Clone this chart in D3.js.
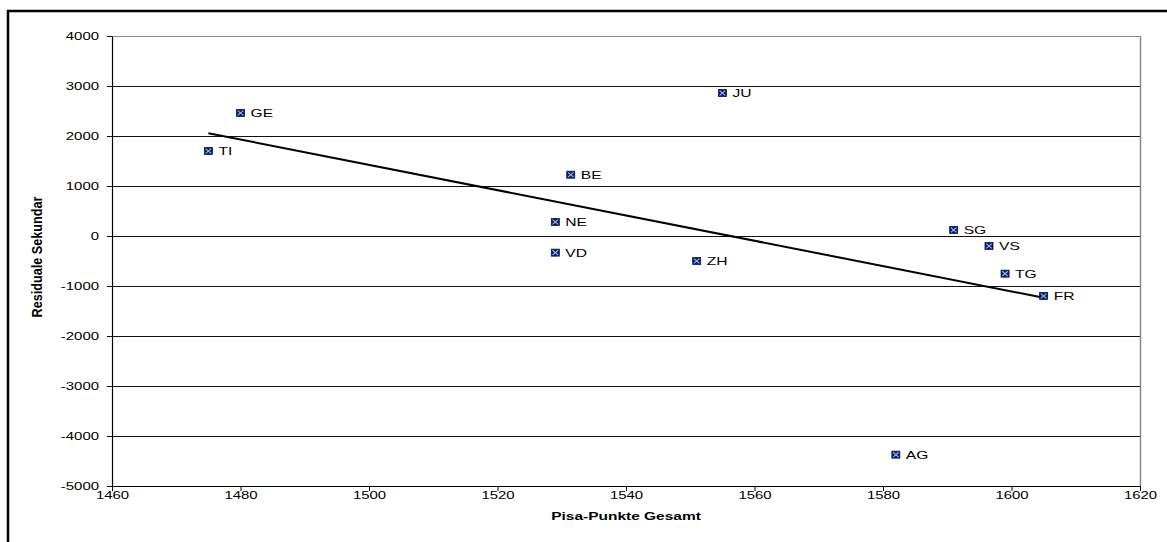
<!DOCTYPE html>
<html>
<head>
<meta charset="utf-8">
<script src="https://cdn.jsdelivr.net/npm/d3@7"></script>
<style>
  html, body { margin: 0; padding: 0; background: #fff; }
  svg { display: block; font-family: "Liberation Sans", Arial, sans-serif; }
</style>
</head>
<body>
<svg id="chart" width="1167" height="542"></svg>
<script>
// ---- data ----
const cantons = ["TI", "GE", "JU", "BE", "NE", "VD", "ZH", "SG", "VS", "TG", "FR", "AG"];
const pisaPoints = [1475, 1480, 1555, 1531.4, 1529, 1529, 1551, 1591, 1596.5, 1599, 1605, 1582];
const residuals = [1700, 2460, 2860, 1226, 280, -333, -500, 120, -200, -753, -1200, -4373];
const xTickValues = [1460, 1480, 1500, 1520, 1540, 1560, 1580, 1600, 1620];
const yTickValues = [-5000, -4000, -3000, -2000, -1000, 0, 1000, 2000, 3000, 4000];
const xTitle = "Pisa-Punkte Gesamt";
const yTitle = "Residuale Sekundar";

const SX = 1.37; // horizontal stretch of text in the reference

const svg = d3.select("#chart");

// outer chart border
svg.append("rect")
  .attr("x", 8).attr("y", 11)
  .attr("width", 1200).attr("height", 600)
  .attr("fill", "none").attr("stroke", "#000").attr("stroke-width", 2.5);

const x = d3.scaleLinear().domain([1460, 1620]).range([112, 1140]);
const y = d3.scaleLinear().domain([-5000, 4000]).range([486, 36]);

// gridlines
svg.append("g")
  .selectAll("line")
  .data(yTickValues.filter(v => v > -5000))
  .join("line")
  .attr("x1", x(1460)).attr("x2", x(1620))
  .attr("y1", d => Math.round(y(d)) + 0.5).attr("y2", d => Math.round(y(d)) + 0.5)
  .attr("stroke", d => d === 4000 ? "#888" : "#111")
  .attr("stroke-width", 1);

// plot border (right side)
svg.append("line")
  .attr("x1", x(1620) + 0.5).attr("x2", x(1620) + 0.5)
  .attr("y1", y(4000)).attr("y2", y(-5000))
  .attr("stroke", "#888").attr("stroke-width", 1.5);

const fmt = d => String(d);

// axes
const yAxis = d3.axisLeft(y).tickValues(yTickValues).tickSize(5).tickSizeOuter(0)
  .tickFormat(fmt);
const gy = svg.append("g").attr("transform", `translate(${x(1460)},0)`).call(yAxis);
gy.select(".domain").attr("stroke", "#000").attr("stroke-width", 1.2);
gy.selectAll(".tick line").attr("stroke", "#000");
gy.selectAll(".tick text")
  .attr("x", null).attr("dy", "0.35em")
  .attr("transform", `translate(-13,0) scale(${SX},1)`)
  .attr("font-size", 10.9).attr("fill", "#000")
  .attr("font-family", "Liberation Sans, Arial, sans-serif");

const xAxis = d3.axisBottom(x).tickValues(xTickValues).tickSize(5).tickSizeOuter(0)
  .tickFormat(fmt);
const gx = svg.append("g").attr("transform", `translate(0,${y(-5000)})`).call(xAxis);
gx.select(".domain").attr("stroke", "#000").attr("stroke-width", 1.2);
gx.selectAll(".tick line").attr("stroke", "#000");
gx.selectAll(".tick text")
  .attr("y", null).attr("dy", null)
  .attr("transform", `translate(0,12.5) scale(${SX},1)`)
  .attr("font-size", 10.9).attr("fill", "#000")
  .attr("font-family", "Liberation Sans, Arial, sans-serif");

// linear trend line (least squares over the points)
const n = pisaPoints.length;
const mx = d3.mean(pisaPoints), my = d3.mean(residuals);
let sxy = 0, sxx = 0;
for (let i = 0; i < n; i++) {
  sxy += (pisaPoints[i] - mx) * (residuals[i] - my);
  sxx += (pisaPoints[i] - mx) ** 2;
}
const slope = sxy / sxx, intercept = my - slope * mx;
const [xmin, xmax] = d3.extent(pisaPoints);
svg.append("path")
  .attr("d", d3.line().x(d => x(d)).y(d => y(intercept + slope * d))([xmin, xmax]))
  .attr("stroke", "#000").attr("stroke-width", 2).attr("fill", "none");

// points
const pts = svg.append("g").selectAll("g")
  .data(cantons.map((c, i) => ({ c, px: pisaPoints[i], r: residuals[i] })))
  .join("g")
  .attr("transform", d => `translate(${x(d.px)},${y(d.r)})`);

pts.append("rect")
  .attr("x", -4).attr("y", -3.5).attr("width", 8).attr("height", 7)
  .attr("fill", "#0d1b5e").attr("stroke", "#0a1450").attr("stroke-width", 0.8);
pts.append("path")
  .attr("d", "M-2.8,-2.4L2.8,2.4M-2.8,2.4L2.8,-2.4")
  .attr("stroke", "#8cc0ff").attr("stroke-width", 1.1);

pts.append("text")
  .text(d => d.c)
  .attr("dy", "0.36em")
  .attr("transform", `translate(10,0) scale(${SX},1)`)
  .attr("font-size", 11.4).attr("fill", "#000");

// axis titles
svg.append("text")
  .text(xTitle)
  .attr("text-anchor", "middle")
  .attr("transform", `translate(${(x(1460) + x(1620)) / 2},520) scale(${SX},1)`)
  .attr("font-size", 11.3).attr("font-weight", "bold").attr("fill", "#000");

svg.append("text")
  .text(yTitle)
  .attr("text-anchor", "middle")
  .attr("textLength", 121).attr("lengthAdjust", "spacingAndGlyphs")
  .attr("transform", `translate(42,257) scale(${SX},1) rotate(-90)`)
  .attr("font-size", 11).attr("font-weight", "bold").attr("fill", "#000");
</script>
</body>
</html>
